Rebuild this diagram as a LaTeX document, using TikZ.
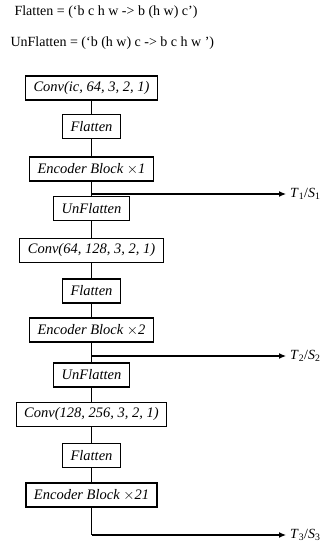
\documentclass[tikz,border=0pt]{standalone}
\usepackage{fontspec}
\setmainfont{Liberation Serif}
\usetikzlibrary{arrows.meta}
\usetikzlibrary{positioning}

\begin{document}
\begin{tikzpicture}[
        x=1pt, y=-1pt,
        font = \fontsize{14}{16}\selectfont,
        layer/.style = {draw, rectangle, line width = 1.2pt, inner xsep = 8pt,
                        minimum height = 24pt, font = \fontsize{14.5}{16}\selectfont\itshape},
        link/.style = {line width = 1.2pt},
        tap/.style = {line width = 1.2pt, -{Latex[length=7pt, width=6pt]}, shorten > = 4pt},
        ]
        \useasboundingbox (0,0) rectangle (336,550);
        % einops patterns
        \node[anchor = west] (flatdef) at (11,12) {Flatten = (‘b c h w -> b (h w) c’)};
        \node[anchor = west] (unflatdef) at (7,43) {UnFlatten = (‘b (h w) c -> b c h w ’)};

        % stage 1
        \node[layer] (conv1) at (91.5,88) {Conv(ic, 64, 3, 2, 1)};
        \node[layer] (flat1) at (91.5,126.5) {Flatten};
        \node[layer] (enc1) at (91.5,169) {Encoder Block $\times$1};
        \node[layer] (unf1) at (91.5,208.5) {UnFlatten};
        % stage 2
        \node[layer] (conv2) at (91.5,250.5) {Conv(64, 128, 3, 2, 1)};
        \node[layer] (flat2) at (91.5,291) {Flatten};
        \node[layer] (enc2) at (91.5,330) {Encoder Block $\times$2};
        \node[layer] (unf2) at (91.5,375) {UnFlatten};
        % stage 3
        \node[layer] (conv3) at (91.5,414.5) {Conv(128, 256, 3, 2, 1)};
        \node[layer] (flat3) at (91.5,455.5) {Flatten};
        \node[layer] (enc3) at (91.5,495) {Encoder Block $\times$21};

        % outputs
        \coordinate (br1) at (91.5,194);
        \coordinate (br2) at (91.5,356);
        \coordinate (br3) at (91.5,535);
        \node[anchor = west, inner sep = 0pt] (ts1) at (290,194) {\textit{T}\textsubscript{1}/\textit{S}\textsubscript{1}};
        \node[anchor = west, inner sep = 0pt] (ts2) at (290,356) {\textit{T}\textsubscript{2}/\textit{S}\textsubscript{2}};
        \node[anchor = west, inner sep = 0pt] (ts3) at (290,535) {\textit{T}\textsubscript{3}/\textit{S}\textsubscript{3}};

        \draw[link] (conv1) -- (flat1) -- (enc1) -- (unf1) -- (conv2)
                    -- (flat2) -- (enc2) -- (unf2) -- (conv3) -- (flat3) -- (enc3);
        \draw[link] (enc3) -- (br3);
        \draw[tap] (br1) -- (ts1.west |- br1);
        \draw[tap] (br2) -- (ts2.west |- br2);
        \draw[tap] (br3) -- (ts3.west |- br3);
\end{tikzpicture}
\end{document}
